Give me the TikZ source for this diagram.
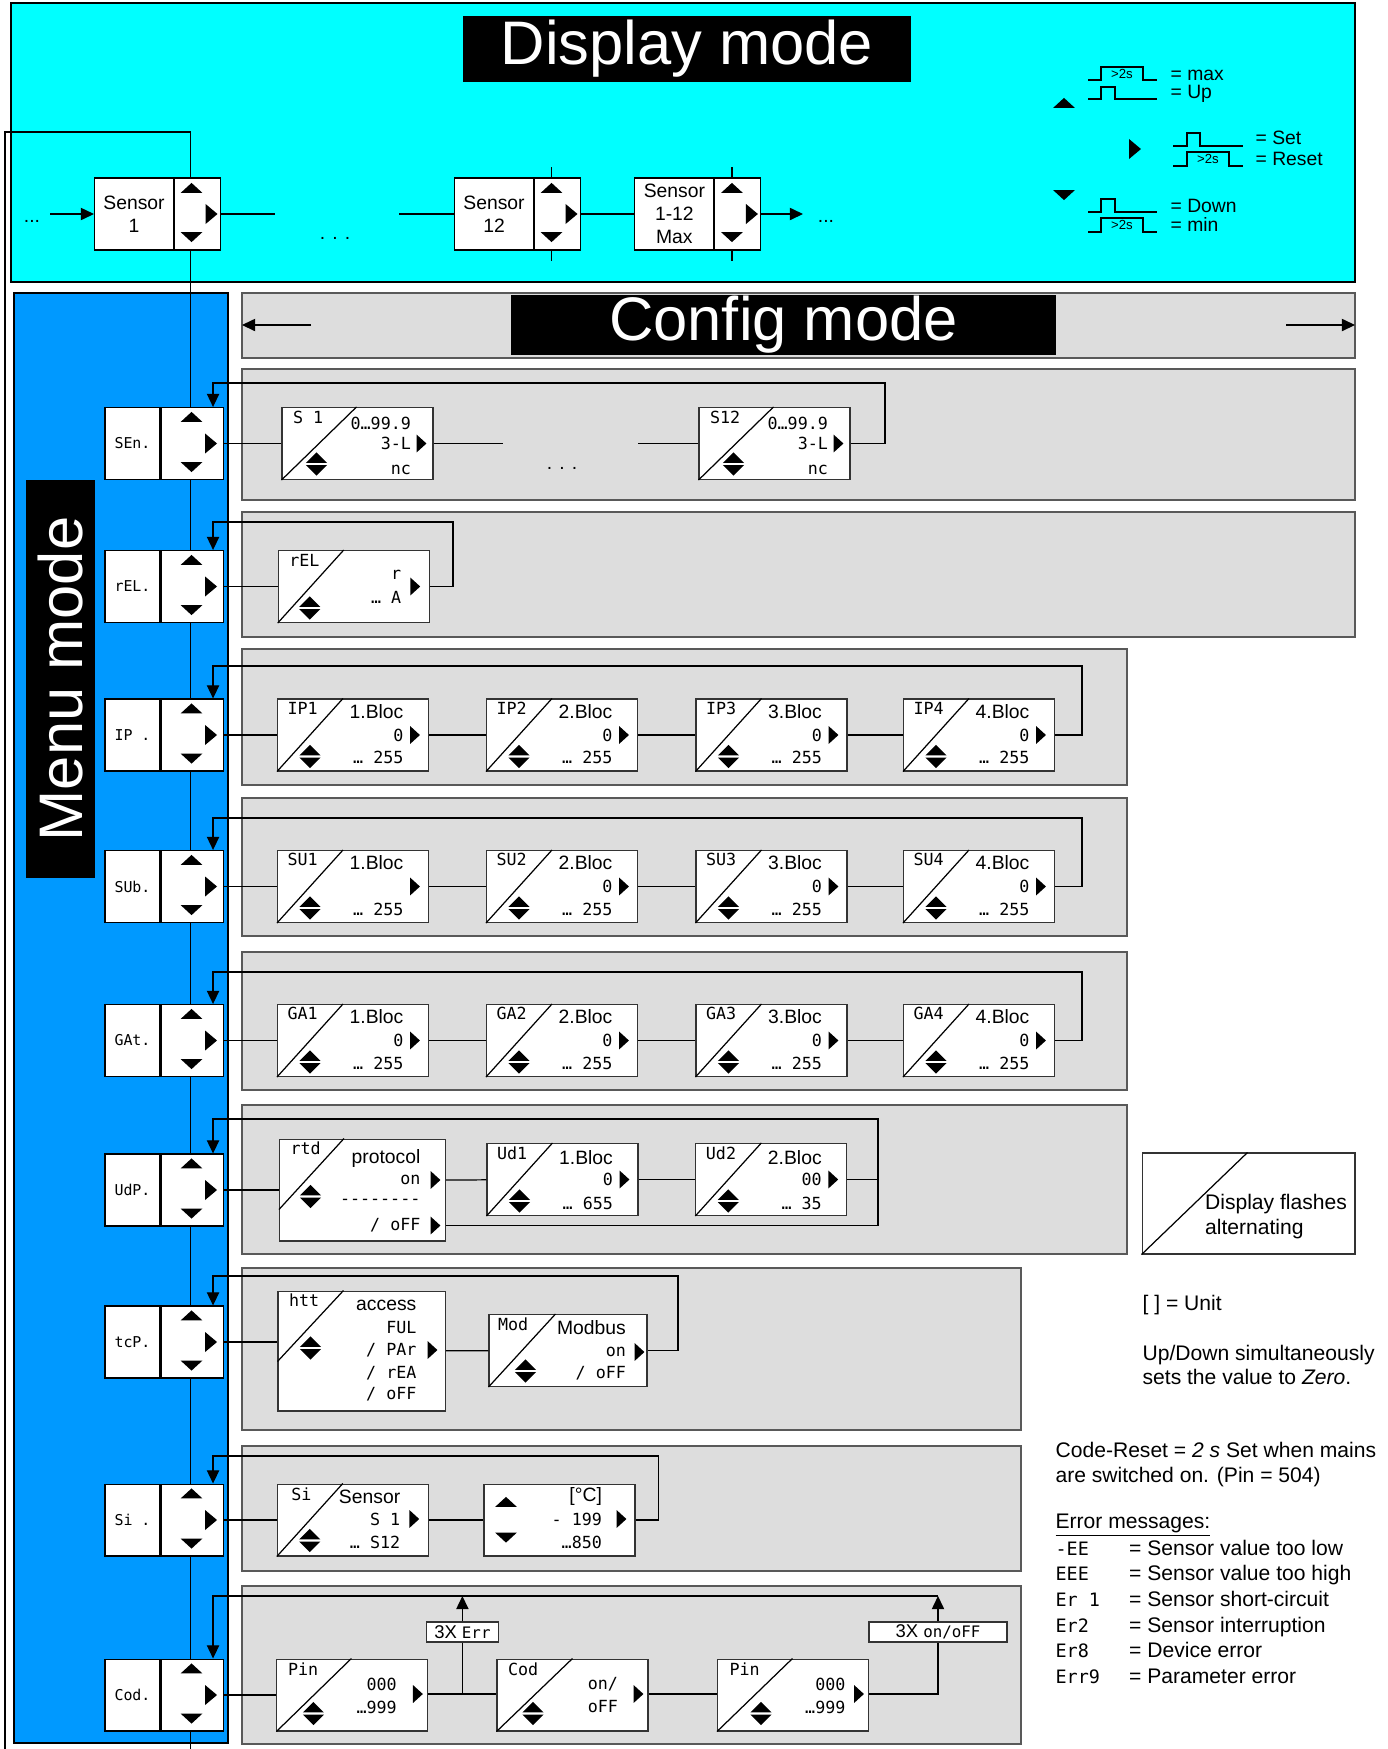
\documentclass[tikz,border=0pt]{standalone}
\usepackage{fontspec}
\setmainfont{Liberation Sans}
\newfontfamily\segfont{DejaVu Sans Mono}
\usetikzlibrary{positioning, arrows.meta}
\definecolor{dispcyan}{RGB}{0, 255, 255}
\definecolor{menublue}{RGB}{0, 153, 255}
\definecolor{cfggray}{RGB}{221, 221, 221}
\tikzset{
  txt/.style={font=\fontsize{11}{13}\selectfont, inner sep=0pt},
  note/.style={font=\fontsize{12}{14}\selectfont, inner sep=0pt},
  seg/.style={font=\segfont\fontsize{9.5}{11}\selectfont, inner sep=0pt},
  tinytxt/.style={font=\fontsize{7.5}{9}\selectfont, inner sep=0pt},
  modetitle/.style={fill=black, text=white, inner sep=0pt, font=\fontsize{35}{40}\selectfont},
  panel/.style={draw=black!65, fill=cfggray, line width=0.6pt},
  sensbox/.style={draw, fill=white, line width=0.6pt, minimum width=1.58cm, minimum height=1.44cm, inner sep=0pt, align=center, font=\fontsize{11}{13}\selectfont},
  sensbtn/.style={draw, fill=white, line width=0.6pt, minimum width=0.92cm, minimum height=1.44cm, inner sep=0pt},
  menubox/.style={draw, fill=white, line width=0.6pt, minimum width=1.1cm, minimum height=1.44cm, inner sep=0pt, font=\segfont\fontsize{8.5}{10}\selectfont},
  menubtn/.style={draw, fill=white, line width=0.6pt, minimum width=1.24cm, minimum height=1.44cm, inner sep=0pt},
  dispbox/.style={draw=black!80, fill=white, line width=0.6pt, minimum width=3.02cm, minimum height=1.44cm, inner sep=0pt},
  tagbox/.style={draw=black!80, fill=white, line width=0.6pt, minimum height=0.4cm, inner sep=0pt, font=\fontsize{10.5}{12}\selectfont},
  loopar/.style={-{Triangle[length=7.5pt, width=7pt]}},
  pulseline/.style={line width=0.8pt},
  pics/btnup/.style={code={\fill (-6.2pt,-2.8pt) -- (6.2pt,-2.8pt) -- (0pt,2.9pt) -- cycle;}},
  pics/btndn/.style={code={\fill (-6.2pt,2.8pt) -- (6.2pt,2.8pt) -- (0pt,-2.9pt) -- cycle;}},
  pics/btnrt/.style={code={\fill (-3.4pt,5.7pt) -- (3.4pt,0pt) -- (-3.4pt,-5.7pt) -- cycle;}},
  pics/nxt/.style={code={\fill (-2.8pt,5.1pt) -- (2.8pt,0pt) -- (-2.8pt,-5.1pt) -- cycle;}},
  pics/updn/.style={code={
    \fill (-6pt,0.6pt) -- (6pt,0.6pt) -- (0pt,6.6pt) -- cycle;
    \fill (-6pt,-0.6pt) -- (6pt,-0.6pt) -- (0pt,-6.6pt) -- cycle;}},
}

\begin{document}
\begin{tikzpicture}[x=0.02cm, y=-0.02cm, line width=0.7pt]
  \useasboundingbox (0,0) rectangle (1388,1749);
  % backgrounds
  \draw[fill=dispcyan, line width=0.6pt] (11,3) rectangle (1355,282);
  \draw[fill=menublue, line width=0.6pt] (14,293) rectangle (228,1743);
  \foreach \pt/\pb/\pr in {293/358/1355, 369/500/1355, 512/637/1355, 649/785/1127, 798/936/1127,
      952/1090/1127, 1105/1254/1127, 1268/1430/1021, 1446/1571/1021, 1586/1744/1021}
    \draw[panel] (242,\pt) rectangle (\pr,\pb);

  % main path through the menu
  \coordinate (lbot) at (5,1749);
  \coordinate (ltop) at (5,132);
  \coordinate (mtop) at (190.5,132);
  \coordinate (mbot) at (190.5,1749);
  \draw (lbot) -- (ltop) -- (mtop) -- (mbot);

  % titles
  \node[modetitle, minimum width=8.95cm, minimum height=1.32cm] (dmode) at (687,49) {Display mode};
  \node[modetitle, minimum width=10.9cm, minimum height=1.2cm] (cmode) at (783.5,325) {Config mode};
  \node[modetitle, rotate=90, minimum width=7.96cm, minimum height=1.38cm] (mmode) at (60.5,679) {Menu mode};
  \coordinate (cfa) at (311,325);
  \coordinate (cfl) at (242,325);
  \coordinate (cfb) at (1286,325);
  \coordinate (cfr) at (1355,325);
  \draw[loopar] (cfa) -- (cfl);
  \draw[loopar] (cfb) -- (cfr);

  % display mode
  \node[sensbox] (sen1) at (134,214) {Sensor\\1};
  \node[sensbtn, right=0pt of sen1] (sen1b) {};
  \node[sensbox] (sen12) at (494,214) {Sensor\\12};
  \node[sensbtn, right=0pt of sen12] (sen12b) {};
  \node[sensbox] (senmax) at (674.4,214) {Sensor\\1-12\\Max};
  \node[sensbtn, right=0pt of senmax] (senmaxb) {};
  \foreach \bt in {sen1b, sen12b, senmaxb} {
    \pic at ([shift={(-6,-26)}]\bt.center) {btnup};
    \pic at ([shift={(-6,23)}]\bt.center) {btndn};
    \pic at ([shift={(14,0)}]\bt.center) {btnrt};
  }
  \foreach \bt in {sen12b, senmaxb} {
    \draw ([shift={(-6,0)}]\bt.north) -- ++(0,-10);
    \draw ([shift={(-6,0)}]\bt.south) -- ++(0,10);
  }
  \coordinate (din) at (50,214);
  \coordinate (dgapa) at (275,214);
  \coordinate (dgapb) at (399,214);
  \coordinate (dout) at (803,214);
  \draw[loopar] (din) -- (sen1);
  \draw (sen1b) -- (dgapa);
  \draw (dgapb) -- (sen12);
  \draw (sen12b) -- (senmax);
  \draw[loopar] (senmaxb) -- (dout);
  \node[txt] (dots1) at (32,221) {...};
  \node[txt] (dots2) at (335,238) {. . .};
  \node[txt] (dots3) at (826,221) {...};

  % key legend
  \pic at (1064,103) {btnup};
  \pic at (1135,149) {btnrt};
  \pic at (1064,195) {btndn};
  \draw[pulseline] (1088,80) -- (1101,80) -- (1101,67) -- (1143,67) -- (1143,80) -- (1157,80);
  \draw[pulseline] (1088,99) -- (1101,99) -- (1101,87) -- (1115,87) -- (1115,99) -- (1157,99);
  \draw[pulseline] (1173,146) -- (1187,146) -- (1187,133) -- (1200,133) -- (1200,146) -- (1243,146);
  \draw[pulseline] (1173,166) -- (1187,166) -- (1187,152) -- (1229,152) -- (1229,166) -- (1243,166);
  \draw[pulseline] (1088,212) -- (1101,212) -- (1101,199) -- (1115,199) -- (1115,212) -- (1157,212);
  \draw[pulseline] (1088,232) -- (1101,232) -- (1101,218) -- (1143,218) -- (1143,232) -- (1157,232);
  \node[tinytxt] (lgt1) at (1122,74) {>2s};
  \node[tinytxt] (lgt2) at (1208,159) {>2s};
  \node[tinytxt] (lgt3) at (1122,225) {>2s};
  \node[txt, anchor=base west] (lgmax) at (1170,80) {= max};
  \node[txt, anchor=base west] (lgup) at (1170,98) {= Up};
  \node[txt, anchor=base west] (lgset) at (1255,144) {= Set};
  \node[txt, anchor=base west] (lgreset) at (1255,165) {= Reset};
  \node[txt, anchor=base west] (lgdown) at (1170,212) {= Down};
  \node[txt, anchor=base west] (lgmin) at (1170,231) {= min};

  % menu column
  \foreach \nm/\lab/\y in {sen/SEn./443.5, rel/rEL./586.5, ip/IP ./735, sub/SUb./886.5, gat/GAt./1040.5,
      udp/UdP./1190, tcp/tcP./1342, si/Si ./1520, cod/Cod./1695} {
    \node[menubox] (\nm) at (132.5,\y) {\lab};
    \node[menubtn, right=0pt of \nm] (\nm btn) {};
    \pic at ([shift={(-0.5,-26.5)}]\nm btn.center) {btnup};
    \pic at ([shift={(-0.5,23.5)}]\nm btn.center) {btndn};
    \pic at ([shift={(19,0)}]\nm btn.center) {btnrt};
  }

  % SEn
  \foreach \nm/\hdr/\x in {s1/S 1/357.5, s12/S12/774.5} {
    \node[dispbox] (\nm) at (\x,443.5) {};
    \draw (\nm.south west) -- ([shift={(75,0)}]\nm.north west);
    \node[seg, anchor=north west] (\nm h) at ([shift={(11,4)}]\nm.north west) {\hdr};
    \node[seg, anchor=east] (\nm a) at ([shift={(-22,16)}]\nm.north east) {0…99.9};
    \node[seg, anchor=east] (\nm b) at ([shift={(-22,0)}]\nm.east) {3-L};
    \node[seg, anchor=east] (\nm c) at ([shift={(-22,-10)}]\nm.south east) {nc};
    \pic at ([shift={(-12,0)}]\nm.east) {nxt};
    \pic at ([shift={(35,-16)}]\nm.south west) {updn};
  }
  \coordinate (sgapa) at (503,443.5);
  \coordinate (sgapb) at (638,443.5);
  \coordinate (senlp) at (885,383);
  \draw (senbtn) -- (s1);
  \draw (s1) -- (sgapa);
  \draw (sgapb) -- (s12);
  \node[txt] (sdots) at (562,468) {. . .};
  \draw[loopar] (s12.east) -| (senlp) -| ([shift={(21,0)}]senbtn.north);

  % rEL
  \node[dispbox] (relx) at (353.75,586.5) {};
  \draw (relx.south west) -- ([shift={(66,0)}]relx.north west);
  \node[seg, anchor=north west] (relxh) at ([shift={(11,4)}]relx.north west) {rEL};
  \node[seg, anchor=east] (relxa) at ([shift={(-28,-11.5)}]relx.east) {r};
  \node[seg, anchor=east] (relxb) at ([shift={(-28,10.5)}]relx.east) {… A};
  \pic at ([shift={(-14.5,0)}]relx.east) {nxt};
  \pic at ([shift={(32,-15)}]relx.south west) {updn};
  \coordinate (rellp) at (453,522);
  \draw (relbtn) -- (relx);
  \draw[loopar] (relx.east) -| (rellp) -| ([shift={(21,0)}]relbtn.north);

  % IP, SUb, GAt
  \foreach \rw/\hdr/\y/\ly/\zf in {ip/IP/735/666/0, sub/SU/886.5/818/{}, gat/GA/1040.5/972/0} {
    \foreach \i/\x in {1/353, 2/562, 3/771.5, 4/979} {
      \node[dispbox] (\rw\i) at (\x,\y) {};
      \draw (\rw\i.south west) -- ([shift={(66,0)}]\rw\i.north west);
      \node[seg, anchor=north west] (\rw\i h) at ([shift={(10,3)}]\rw\i.north west) {\hdr\i};
      \node[txt, anchor=east] (\rw\i t) at ([shift={(-25,13)}]\rw\i.north east) {\i.Bloc};
      \node[seg, anchor=east] (\rw\i v) at ([shift={(-25,0)}]\rw\i.east) {\ifnum\i=1 \zf\else 0\fi};
      \node[seg, anchor=east] (\rw\i w) at ([shift={(-25,-14)}]\rw\i.south east) {… 255};
      \pic at ([shift={(-14,0)}]\rw\i.east) {nxt};
      \pic at ([shift={(33,-15)}]\rw\i.south west) {updn};
    }
    \coordinate (\rw lp) at (1082,\ly);
    \draw (\rw btn) -- (\rw1) -- (\rw2) -- (\rw3) -- (\rw4);
    \draw[loopar] (\rw4.east) -| (\rw lp) -| ([shift={(21,0)}]\rw btn.north);
  }

  % UdP
  \node[dispbox, minimum width=3.32cm, minimum height=2.04cm] (rtd) at (362.5,1190) {};
  \draw ([shift={(0,71)}]rtd.north west) -- ([shift={(65,0)}]rtd.north west);
  \node[seg, anchor=north west] (rtdh) at ([shift={(11,3)}]rtd.north west) {rtd};
  \node[txt, anchor=east] (rtdt) at ([shift={(-25,20)}]rtd.north east) {protocol};
  \node[seg, anchor=east] (rtdon) at ([shift={(-25,-10)}]rtd.east) {on};
  \node[seg, anchor=east] (rtddash) at ([shift={(-25,12)}]rtd.east) {-{}-{}-{}-{}-{}-{}-{}-};
  \node[seg, anchor=east] (rtdoff) at ([shift={(-25,-16)}]rtd.south east) {/ oFF};
  \pic at ([shift={(-10.5,-10)}]rtd.east) {nxt};
  \pic at ([shift={(-10.5,-16)}]rtd.south east) {nxt};
  \pic at ([shift={(31.5,6.5)}]rtd.west) {updn};
  \foreach \nm/\hdr/\x/\lab/\val/\vb in {ud1/Ud1/562.5/1.Bloc/0/… 655, ud2/Ud2/771.3/2.Bloc/00/… 35} {
    \node[dispbox] (\nm) at (\x,1179.5) {};
    \draw (\nm.south west) -- ([shift={(66,0)}]\nm.north west);
    \node[seg, anchor=north west] (\nm h) at ([shift={(10,3)}]\nm.north west) {\hdr};
    \node[txt, anchor=east] (\nm t) at ([shift={(-25,15)}]\nm.north east) {\lab};
    \node[seg, anchor=east] (\nm v) at ([shift={(-25,0)}]\nm.east) {\val};
    \node[seg, anchor=east] (\nm w) at ([shift={(-25,-13)}]\nm.south east) {\vb};
    \pic at ([shift={(-14,0)}]\nm.east) {nxt};
    \pic at ([shift={(33,-15)}]\nm.south west) {updn};
  }
  \coordinate (udplp) at (878,1119);
  \draw (udpbtn) -- (rtd);
  \draw ([shift={(0,-10)}]rtd.east) -- (ud1);
  \draw (ud1) -- (ud2);
  \draw[loopar] (ud2.east) -| (udplp) -| ([shift={(21,0)}]udpbtn.north);
  \draw ([shift={(0,-16)}]rtd.south east) -| (udplp);

  % tcP
  \node[dispbox, minimum width=3.35cm, minimum height=2.4cm] (htt) at (361.75,1351) {};
  \draw ([shift={(0,71)}]htt.north west) -- ([shift={(66,0)}]htt.north west);
  \node[seg, anchor=north west] (htth) at ([shift={(11,3)}]htt.north west) {htt};
  \node[txt, anchor=east] (httt) at ([shift={(-29,15)}]htt.north east) {access};
  \node[seg, anchor=east] (httf) at ([shift={(-29,-23)}]htt.east) {FUL};
  \node[seg, anchor=east] (http) at ([shift={(-29,-1)}]htt.east) {/ PAr};
  \node[seg, anchor=east] (httr) at ([shift={(-29,22)}]htt.east) {/ rEA};
  \node[seg, anchor=east] (htto) at ([shift={(-29,-17)}]htt.south east) {/ oFF};
  \pic at ([shift={(-13.5,-1)}]htt.east) {nxt};
  \pic at ([shift={(33,-3)}]htt.west) {updn};
  \node[dispbox, minimum width=3.16cm] (modb) at (568,1350.5) {};
  \draw (modb.south west) -- ([shift={(67,0)}]modb.north west);
  \node[seg, anchor=north west] (modbh) at ([shift={(9,3)}]modb.north west) {Mod};
  \node[txt, anchor=east] (modbt) at ([shift={(-21,14)}]modb.north east) {Modbus};
  \node[seg, anchor=east] (modbon) at ([shift={(-21,1.5)}]modb.east) {on};
  \node[seg, anchor=east] (modboff) at ([shift={(-21,-14)}]modb.south east) {/ oFF};
  \pic at ([shift={(-8,1.5)}]modb.east) {nxt};
  \pic at ([shift={(37,-16)}]modb.south west) {updn};
  \coordinate (tcplp) at (678,1276);
  \draw (tcpbtn.east) -- (tcpbtn.east -| htt.west);
  \draw (htt) -- (modb);
  \draw[loopar] (modb.east) -| (tcplp) -| ([shift={(21,0)}]tcpbtn.north);

  % Si
  \node[dispbox] (sib) at (352.8,1520) {};
  \draw (sib.south west) -- ([shift={(66,0)}]sib.north west);
  \node[seg, anchor=north west] (sibh) at ([shift={(14,4)}]sib.north west) {Si};
  \node[txt, anchor=east] (sibt) at ([shift={(-28,13)}]sib.north east) {Sensor};
  \node[seg, anchor=east] (siba) at ([shift={(-28,-1)}]sib.east) {S 1};
  \node[seg, anchor=east] (sibb) at ([shift={(-28,-14)}]sib.south east) {… S12};
  \pic at ([shift={(-14.5,-1)}]sib.east) {nxt};
  \pic at ([shift={(33,-16)}]sib.south west) {updn};
  \node[dispbox] (unit) at (559.5,1520) {};
  \pic at ([shift={(-53.5,-18)}]unit.center) {btnup};
  \pic at ([shift={(-53.5,17.5)}]unit.center) {btndn};
  \node[txt, anchor=east] (unitt) at ([shift={(-33,13)}]unit.north east) {[°C]};
  \node[seg, anchor=east] (unita) at ([shift={(-33,-1)}]unit.east) {- 199};
  \node[seg, anchor=east] (unitb) at ([shift={(-33,-14)}]unit.south east) {…850};
  \pic at ([shift={(-14,-1)}]unit.east) {nxt};
  \coordinate (silp) at (658.5,1456);
  \draw (sibtn) -- (sib);
  \draw (sib) -- (unit);
  \draw[loopar] (unit.east) -| (silp) -| ([shift={(21,0)}]sibtn.north);

  % Cod
  \node[dispbox] (pin1) at (352.4,1695) {};
  \draw (pin1.south west) -- ([shift={(75,0)}]pin1.north west);
  \node[seg, anchor=north west] (pin1h) at ([shift={(11,4)}]pin1.north west) {Pin};
  \node[seg, anchor=east] (pin1a) at ([shift={(-31,-11)}]pin1.east) {000};
  \node[seg, anchor=east] (pin1b) at ([shift={(-31,12)}]pin1.east) {…999};
  \pic at ([shift={(-10.5,-1)}]pin1.east) {nxt};
  \pic at ([shift={(37,-18)}]pin1.south west) {updn};
  \node[dispbox] (codb) at (572.5,1695) {};
  \draw (codb.south west) -- ([shift={(76,0)}]codb.north west);
  \node[seg, anchor=north west] (codbh) at ([shift={(11,4)}]codb.north west) {Cod};
  \node[seg, anchor=east] (codba) at ([shift={(-30,-11)}]codb.east) {on/};
  \node[seg, anchor=east] (codbb) at ([shift={(-30,12)}]codb.east) {oFF};
  \pic at ([shift={(-10,-1)}]codb.east) {nxt};
  \pic at ([shift={(36.5,-18)}]codb.south west) {updn};
  \node[dispbox] (pin2) at (793,1695) {};
  \draw (pin2.south west) -- ([shift={(75.5,0)}]pin2.north west);
  \node[seg, anchor=north west] (pin2h) at ([shift={(12,4)}]pin2.north west) {Pin};
  \node[seg, anchor=east] (pin2a) at ([shift={(-23,-11)}]pin2.east) {000};
  \node[seg, anchor=east] (pin2b) at ([shift={(-23,12)}]pin2.east) {…999};
  \pic at ([shift={(-10,-1)}]pin2.east) {nxt};
  \pic at ([shift={(44,-18)}]pin2.south west) {updn};
  \node[tagbox, minimum width=1.454cm] (errtag) at (462.4,1632) {3X {\segfont\fontsize{9}{11}\selectfont Err}};
  \node[tagbox, minimum width=2.76cm] (ontag) at (938,1632) {3X {\segfont\fontsize{9}{11}\selectfont on/oFF}};
  \coordinate (codlp) at (938,1596);
  \draw (codbtn) -- (pin1);
  \draw ([shift={(0,-1)}]pin1.east) -- ([shift={(0,-1)}]codb.west);
  \draw (errtag.south) -- (errtag.south |- pin1.east);
  \draw[loopar] (errtag.north) -- (errtag.north |- codlp);
  \draw ([shift={(0,-1)}]codb.east) -- ([shift={(0,-1)}]pin2.west);
  \draw ([shift={(0,-1)}]pin2.east) -| (ontag.south);
  \draw[loopar] (ontag.north) -- (codlp);
  \draw[loopar] (codlp) -| ([shift={(21,0)}]codbtn.north);

  % notes
  \node[draw=black!80, fill=white, line width=0.6pt, minimum width=4.26cm, minimum height=2.02cm] (flash) at (1248.5,1203.5) {};
  \draw (flash.south west) -- ([shift={(106,0)}]flash.north west);
  \node[note, anchor=west, align=left] (flasht) at (1204.5,1216.5) {Display flashes\\alternating};
  \node[note, anchor=west] (unitnote) at (1142,1305) {[ ] = Unit};
  \node[note, anchor=west, align=left] (zeronote) at (1142,1365) {Up/Down simultaneously\\sets the value to \textit{Zero}.};
  \node[note, anchor=west, align=left] (codenote) at (1055,1464.5) {Code-Reset = \textit{2 s} Set when mains\\are switched on. (Pin = 504)};
  \node[note, anchor=west] (errhead) at (1055,1525) {\underline{Error messages:}};
  \foreach \code/\msg [count=\k from 0] in {-EE/Sensor value too low, EEE/Sensor value too high,
      Er 1/Sensor short-circuit, Er2/Sensor interruption, Er8/Device error, Err9/Parameter error} {
    \node[seg, font=\segfont\fontsize{10.5}{12}\selectfont, anchor=base west] (err\k c) at (1055,1555+25.7*\k) {\code};
    \node[note, anchor=base west] (err\k m) at (1128.6,1555+25.7*\k) {= \msg};
  }
\end{tikzpicture}
\end{document}
